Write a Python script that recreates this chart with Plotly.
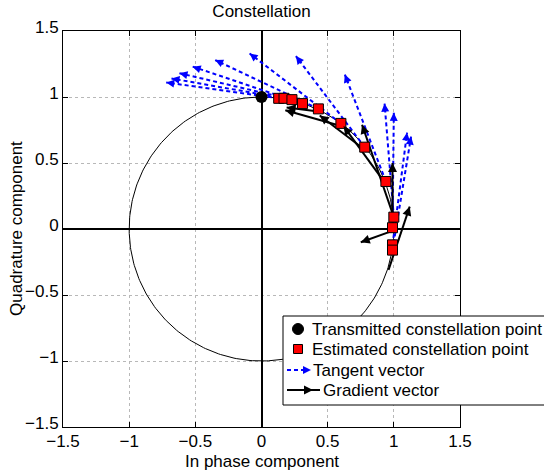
import numpy as np
import plotly.graph_objects as go

# ---------------- data ----------------
tx_x = [0.0]
tx_y = [1.0]

est_x = [0.13, 0.17, 0.23, 0.31, 0.43, 0.60, 0.78, 0.94, 1.00, 0.99, 0.99, 0.99]
est_y = [0.99, 0.99, 0.98, 0.95, 0.91, 0.80, 0.62, 0.36, 0.09, 0.01, -0.12, -0.16]

tan_dx = [-0.85, -0.85, -0.85, -0.83, -0.78, -0.69, -0.52, -0.31, -0.07, 0.01, 0.11, 0.14]
tan_dy = [0.12, 0.15, 0.20, 0.28, 0.37, 0.53, 0.69, 0.81, 0.86, 0.87, 0.85, 0.86]

grad_x0 = [0.60, 0.43, 0.78, 0.94, 1.00, 0.99, 1.00, 0.96]
grad_y0 = [0.78, 0.89, 0.60, 0.34, 0.09, 0.01, -0.01, -0.31]
grad_dx = [-0.42, -0.24, -0.34, -0.32, -0.24, 0.00, -0.25, 0.16]
grad_dy = [0.12, 0.03, 0.26, 0.44, 0.70, 0.49, -0.09, 0.48]

ticks = [-1.5, -1, -0.5, 0, 0.5, 1, 1.5]
tick_text = ["\u22121.5", "\u22121", "\u22120.5", "0", "0.5", "1", "1.5"]

legend_labels = ["Transmitted constellation point", "Estimated constellation point",
                 "Tangent vector", "Gradient vector"]

FONT = "Liberation Sans, Arial, sans-serif"
BLUE = "#0000ff"

fig = go.Figure()

# unit circle
th = np.linspace(0, 2 * np.pi, 361)
fig.add_trace(go.Scatter(x=np.cos(th), y=np.sin(th), mode="lines",
                         line=dict(color="black", width=1), hoverinfo="skip",
                         showlegend=False))

annotations = []

# tangent vectors (blue dashed)
for x0, y0, dx, dy in zip(est_x, est_y, tan_dx, tan_dy):
    x1, y1 = x0 + dx, y0 + dy
    fig.add_trace(go.Scatter(x=[x0, x1], y=[y0, y1], mode="lines",
                             line=dict(color=BLUE, width=2, dash="4px,3px"),
                             hoverinfo="skip", showlegend=False))
    L = np.hypot(dx, dy)
    annotations.append(dict(x=x1, y=y1, ax=x1 - 0.04 * dx / L, ay=y1 - 0.04 * dy / L,
                            xref="x", yref="y", axref="x", ayref="y", text="",
                            showarrow=True, arrowhead=2, arrowsize=0.8,
                            arrowwidth=2, arrowcolor=BLUE))

# gradient vectors (black)
for x0, y0, dx, dy in zip(grad_x0, grad_y0, grad_dx, grad_dy):
    x1, y1 = x0 + dx, y0 + dy
    fig.add_trace(go.Scatter(x=[x0, x1], y=[y0, y1], mode="lines",
                             line=dict(color="black", width=2),
                             hoverinfo="skip", showlegend=False))
    L = np.hypot(dx, dy)
    annotations.append(dict(x=x1, y=y1, ax=x1 - 0.04 * dx / L, ay=y1 - 0.04 * dy / L,
                            xref="x", yref="y", axref="x", ayref="y", text="",
                            showarrow=True, arrowhead=2, arrowsize=0.9,
                            arrowwidth=2, arrowcolor="black"))

# estimated points
fig.add_trace(go.Scatter(x=est_x, y=est_y, mode="markers",
                         marker=dict(symbol="square", size=10, color="red",
                                     line=dict(color="black", width=1)),
                         hoverinfo="skip", showlegend=False))
# transmitted point
fig.add_trace(go.Scatter(x=tx_x, y=tx_y, mode="markers",
                         marker=dict(symbol="circle", size=12, color="black"),
                         hoverinfo="skip", showlegend=False))

# ---------------- manual legend (paper coords) ----------------
X0, X1, Y0, Y1 = 63, 460, 427, 31   # plot area in pixels
def px(p):
    return (p - X0) / (X1 - X0)
def py(p):
    return (Y0 - p) / (Y0 - Y1)

shapes = []
shapes.append(dict(type="rect", xref="paper", yref="paper",
                   x0=px(283), x1=px(546), y0=py(405), y1=py(316),
                   line=dict(color="black", width=1), fillcolor="white", layer="above"))
rows = [329, 349, 370, 390]
# circle marker
shapes.append(dict(type="circle", xref="paper", yref="paper",
                   x0=px(292.5), x1=px(303.5), y0=py(rows[0] + 5.5), y1=py(rows[0] - 5.5),
                   line=dict(color="black", width=1), fillcolor="black", layer="above"))
# square marker
shapes.append(dict(type="rect", xref="paper", yref="paper",
                   x0=px(293.5), x1=px(302.5), y0=py(rows[1] + 4.5), y1=py(rows[1] - 4.5),
                   line=dict(color="black", width=1), fillcolor="red", layer="above"))
# tangent legend sample
shapes.append(dict(type="line", xref="paper", yref="paper",
                   x0=px(287), x1=px(307), y0=py(rows[2]), y1=py(rows[2]),
                   line=dict(color=BLUE, width=2, dash="4px,3px"), layer="above"))
annotations.append(dict(x=px(311), y=py(rows[2]), xref="paper", yref="paper",
                        ax=-5, ay=0, text="", showarrow=True, arrowhead=2,
                        arrowsize=0.8, arrowwidth=2, arrowcolor=BLUE))
# gradient legend sample
shapes.append(dict(type="line", xref="paper", yref="paper",
                   x0=px(287), x1=px(320), y0=py(rows[3]), y1=py(rows[3]),
                   line=dict(color="black", width=2), layer="above"))
annotations.append(dict(x=px(313), y=py(rows[3]), xref="paper", yref="paper",
                        ax=-5, ay=0, text="", showarrow=True, arrowhead=2,
                        arrowsize=0.9, arrowwidth=2, arrowcolor="black"))

text_x = [310, 310, 311, 321]
for lab, r, tx in zip(legend_labels, rows, text_x):
    annotations.append(dict(x=px(tx), y=py(r), xref="paper", yref="paper",
                            text=lab, showarrow=False, xanchor="left", yanchor="middle",
                            font=dict(family=FONT, size=17, color="black")))

# axis titles as annotations for precise placement
annotations.append(dict(x=px(262), y=py(461), xref="paper", yref="paper",
                        text="In phase component", showarrow=False,
                        xanchor="center", yanchor="middle",
                        font=dict(family=FONT, size=17, color="black")))
annotations.append(dict(x=px(16), y=py(229), xref="paper", yref="paper",
                        text="Quadrature component", showarrow=False, textangle=-90,
                        xanchor="center", yanchor="middle",
                        font=dict(family=FONT, size=17, color="black")))

axis_common = dict(range=[-1.5, 1.5], tickvals=ticks, ticktext=tick_text,
                   showgrid=True, gridcolor="#b8b8b8", griddash="dot", gridwidth=1,
                   zeroline=True, zerolinecolor="black", zerolinewidth=1.5,
                   showline=True, linecolor="black", linewidth=1, mirror="ticks",
                   ticks="inside", ticklen=5, tickcolor="black", automargin=False,
                   tickfont=dict(family=FONT, size=17, color="black"))

fig.update_layout(
    width=544, height=470,
    margin=dict(l=63, r=84, t=31, b=43),
    paper_bgcolor="white", plot_bgcolor="white",
    title=dict(text="Constellation", x=(261.5) / 544, xanchor="center",
               y=1 - 11 / 470, yanchor="middle",
               font=dict(family=FONT, size=17, color="black")),
    xaxis=dict(axis_common, ticklabelstandoff=-1),
    yaxis=dict(axis_common, ticklabelshift=-4),
    shapes=shapes, annotations=annotations, showlegend=False,
)

fig.write_html("out.html")
